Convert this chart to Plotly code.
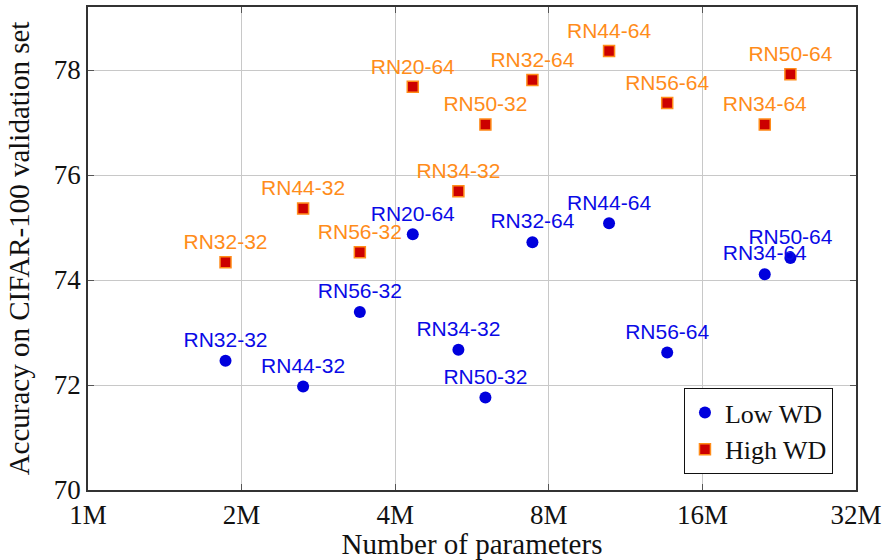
import plotly.graph_objects as go
import math

# Model names (shared by both weight-decay settings)
models = ["RN32-32", "RN44-32", "RN56-32", "RN20-64", "RN34-32", "RN50-32",
          "RN32-64", "RN44-64", "RN56-64", "RN34-64", "RN50-64"]
# Number of parameters, in millions
params_m = [1.86, 2.64, 3.41, 4.33, 5.32, 6.01, 7.43, 10.5, 13.65, 21.2, 23.8]
# Validation accuracy (%) for each regime
acc_low_wd = [72.46, 71.97, 73.39, 74.87, 72.67, 71.76, 74.72, 75.08, 72.62, 74.11, 74.42]
acc_high_wd = [74.34, 75.36, 74.53, 77.68, 75.69, 76.96, 77.81, 78.36, 77.37, 76.96, 77.92]

x_ticks = [1, 2, 4, 8, 16, 32]
x_tick_labels = ["1M", "2M", "4M", "8M", "16M", "32M"]
y_ticks = [70, 72, 74, 76, 78]

serif = "Liberation Serif, DejaVu Serif, serif"
sans = "Liberation Sans, Arial, sans-serif"

fig = go.Figure()
fig.add_trace(go.Scatter(
    x=params_m, y=acc_low_wd, mode="markers+text", name="Low WD",
    text=models, textposition="top center",
    textfont=dict(family=sans, size=21, color="#0a0ae6"),
    marker=dict(symbol="circle", size=12, color="#0000dd"),
))
fig.add_trace(go.Scatter(
    x=params_m, y=acc_high_wd, mode="markers+text", name="High WD",
    text=models, textposition="top center",
    textfont=dict(family=sans, size=21, color="#ff8c1a"),
    marker=dict(symbol="square", size=11, color="#cc0000",
                line=dict(color="#ff8c1a", width=1.5)),
))

axis_common = dict(
    showgrid=True, gridcolor="#c8c8c8", gridwidth=1,
    showline=True, linecolor="#333333", linewidth=1.5, mirror="all",
    ticks="inside", ticklen=6, tickcolor="#555555",
    tickfont=dict(family=serif, size=27, color="#111111"),
    zeroline=False,
)

fig.update_xaxes(
    type="log", range=[0, math.log10(32)],
    tickvals=x_ticks, ticktext=x_tick_labels,
    title=dict(text="Number of parameters", font=dict(family=serif, size=29, color="#111111"), standoff=2),
    **axis_common,
)
fig.update_yaxes(
    range=[70, 79.2], tickvals=y_ticks,
    title=dict(text="Accuracy on CIFAR-100 validation set", font=dict(family=serif, size=29, color="#111111"), standoff=16),
    **axis_common,
)

fig.update_layout(
    width=887, height=560,
    margin=dict(l=88, r=30, t=5, b=70),
    plot_bgcolor="white", paper_bgcolor="white",
    legend=dict(
        x=0.97, y=0.033, xanchor="right", yanchor="bottom",
        bgcolor="white", bordercolor="#111111", borderwidth=1,
        font=dict(family=serif, size=26, color="#111111"),
        itemwidth=30, tracegroupgap=0,
    ),
)

fig.write_html("out.html")
